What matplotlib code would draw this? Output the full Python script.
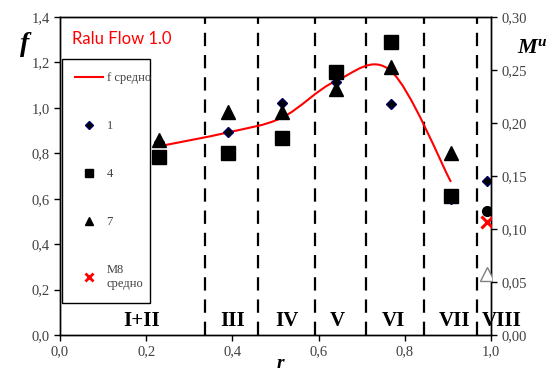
import matplotlib.pyplot as plt
import numpy as np
from matplotlib.path import Path
from matplotlib.patches import PathPatch
from matplotlib.lines import Line2D

# r positions of the measurement groups
r_pts = [0.23, 0.39, 0.515, 0.64, 0.768, 0.907, 0.99]
f_1 = [0.85, 0.894, 1.021, 1.114, 1.017, 0.60, 0.678]
f_4 = [0.784, 0.80, 0.867, 1.158, 1.29, 0.612]
f_7 = [0.858, 0.982, 0.982, 1.083, 1.18, 0.80]
f_mean = [0.831, 0.892, 0.957, 1.118, 1.162, 0.674]
r_end = 0.99
f_dot = 0.546          # black dot at r = 0.99
m8_mean = 0.1066       # M8 средно (right axis)
m_open = 0.058         # open triangle (right axis)

zones = [0.336, 0.46, 0.592, 0.71, 0.845, 0.967]
zone_names = ['I+II', 'III', 'IV', 'V', 'VI', 'VII', 'VIII']
zone_x = [0.19, 0.40, 0.527, 0.643, 0.773, 0.916, 1.025]

xticks = [0.0, 0.2, 0.4, 0.6, 0.8, 1.0]
fticks = [0.0, 0.2, 0.4, 0.6, 0.8, 1.0, 1.2, 1.4]
mticks = [0.0, 0.05, 0.10, 0.15, 0.20, 0.25, 0.30]

serif = 'Liberation Serif'
tick_col = '#404040'

fig = plt.figure(figsize=(5.58, 3.73), dpi=100)
ax = fig.add_axes([60 / 558, 38 / 373, 431 / 558, 318 / 373])
ax.set_xlim(0, 1.0)
ax.set_ylim(0, 1.4)
ax2 = ax.twinx()
ax2.set_ylim(0, 0.30)


def comma(v, n):
    return f'{v:.{n}f}'.replace('.', ',')


ax.set_xticks(xticks)
ax.set_xticklabels([comma(v, 1) for v in xticks])
ax.set_yticks(fticks)
ax.set_yticklabels([comma(v, 1) for v in fticks])
ax2.set_yticks(mticks)
ax2.set_yticklabels([comma(v, 2) for v in mticks])
for a in (ax, ax2):
    a.tick_params(direction='out', length=4, width=1, colors='black',
                  labelcolor=tick_col, labelsize=10.5)
    for lab in a.get_xticklabels() + a.get_yticklabels():
        lab.set_fontfamily(serif)
    for s in a.spines.values():
        s.set_linewidth(1)

# zone borders
for z in zones:
    ax.axvline(z, color='black', lw=1.6, dashes=(6, 4), zorder=1)
for name, zx in zip(zone_names, zone_x):
    ax.text(zx, 0.06, name, ha='center', va='center', fontsize=15,
            fontweight='bold', fontfamily=serif, clip_on=False)

# smoothed mean line (Bezier through the mean points, in pixel space)
sx, sy = 431.0, 318.0 / 1.4
P = np.column_stack([np.array(r_pts[:6]) * sx, np.array(f_mean) * sy])
Pe = np.vstack([P[0], P, P[-1]])
verts = [tuple(P[0])]
codes = [Path.MOVETO]
for i in range(len(P) - 1):
    c1 = Pe[i + 1] + (Pe[i + 2] - Pe[i]) / 6
    c2 = Pe[i + 2] - (Pe[i + 3] - Pe[i + 1]) / 6
    verts += [tuple(c1), tuple(c2), tuple(Pe[i + 2])]
    codes += [Path.CURVE4] * 3
verts = [(x / sx, y / sy) for x, y in verts]
ax.add_patch(PathPatch(Path(verts, codes), fill=False, edgecolor='#ff0000',
                       lw=1.5, zorder=2))

ax.plot(r_pts, f_1, ls='none', marker='D', ms=5.5, mfc='black', mec='#000060',
        zorder=3)
ax.plot(r_pts[:6], f_4, ls='none', marker='s', ms=9.5, color='black', zorder=3)
ax.plot(r_pts[:6], f_7, ls='none', marker='^', ms=9.5, color='black', zorder=3)
ax.plot([r_end], [f_dot], ls='none', marker='o', ms=7, color='black', zorder=3)
ax2.plot([r_end], [m8_mean], ls='none', marker='x', ms=9, mew=2.2,
         color='#ff0000', zorder=4)
ax2.plot([r_end], [m_open], ls='none', marker='^', ms=9.5, mfc='white',
         mec='#808080', zorder=4)

handles = [
    Line2D([], [], color='#ff0000', lw=1.5),
    Line2D([], [], ls='none', marker='D', ms=4, mfc='black', mec='#000060'),
    Line2D([], [], ls='none', marker='s', ms=6, color='black'),
    Line2D([], [], ls='none', marker='^', ms=6, color='black'),
    Line2D([], [], ls='none', marker='x', ms=6, mew=2, color='#ff0000'),
]
labels = ['f средно', '1', '4', '7', 'M8\nсредно']
leg = ax.legend(handles, labels, loc='upper left',
                bbox_to_anchor=(0.005, 0.868, 0.204, 0.0), mode='expand',
                borderaxespad=0, fancybox=False, framealpha=1,
                edgecolor='black', prop={'family': serif, 'size': 9},
                labelspacing=2.88, handlelength=2.2, handletextpad=0.3,
                borderpad=1.05)
leg.get_frame().set_linewidth(1)
for t in leg.get_texts():
    t.set_color(tick_col)

ax.text(0.028, 0.93, 'Ralu Flow 1.0', transform=ax.transAxes, color='#ff0000',
        fontsize=12, fontfamily='Lato', va='center')
ax.text(-0.081, 0.912, 'f', transform=ax.transAxes, fontsize=20,
        fontweight='bold', fontstyle='italic', fontfamily=serif,
        ha='center', va='center')
fig.text(537 / 558, 1 - 48 / 373, 'M', fontsize=16, fontweight='bold',
         fontstyle='italic', fontfamily=serif, ha='right', va='center')
fig.text(537 / 558, 1 - 43 / 373, 'u', fontsize=11, fontweight='bold',
         fontstyle='italic', fontfamily=serif, ha='left', va='center')
fig.text(280 / 558, 1 - 368 / 373, 'r', fontsize=14, fontweight='bold',
         fontstyle='italic', fontfamily=serif, ha='center', va='baseline')

fig.savefig('out.png', dpi=100)
